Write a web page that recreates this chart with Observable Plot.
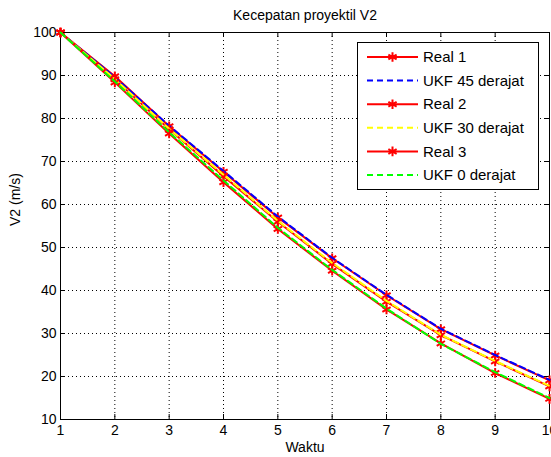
<!DOCTYPE html>
<html>
<head>
<meta charset="utf-8">
<script src="https://cdn.jsdelivr.net/npm/d3@7"></script>
<script src="https://cdn.jsdelivr.net/npm/@observablehq/plot@0.6"></script>
<style>
  html, body { margin: 0; padding: 0; background: #fff; overflow: hidden; }
  #wrap { position: relative; width: 551px; height: 457px; }
  #legend { position: absolute; left: 357px; top: 42px; }
</style>
</head>
<body>
<div id="wrap"></div>
<script>
// ---- data ----
const t = [1, 2, 3, 4, 5, 6, 7, 8, 9, 10];
const real1 = [100, 89.8, 78.2, 67.6, 57.0, 47.5, 38.9, 31.0, 24.9, 19.1];
const ukf45 = [100, 89.6, 78.3, 67.8, 57.2, 47.6, 39.0, 31.1, 25.0, 19.2];
const real2 = [100, 89.1, 77.5, 66.6, 56.0, 46.2, 37.4, 29.6, 23.5, 17.7];
const ukf30 = [100, 89.2, 77.6, 66.9, 56.2, 46.4, 37.6, 29.7, 23.6, 17.8];
const real3 = [100, 88.4, 76.5, 65.2, 54.3, 44.6, 35.6, 27.7, 20.8, 14.8];
const ukf0  = [100, 88.6, 76.8, 65.6, 54.6, 44.8, 35.8, 27.6, 21.0, 15.0];
const xTicks = [1, 2, 3, 4, 5, 6, 7, 8, 9, 10];
const yTicks = [10, 20, 30, 40, 50, 60, 70, 80, 90, 100];
const seriesNames = ["Real 1", "UKF 45 derajat", "Real 2", "UKF 30 derajat", "Real 3", "UKF 0 derajat"];
const seriesColors = ["#ff0000", "#0000ff", "#ff0000", "#ffff00", "#ff0000", "#00ff00"];
const seriesValues = [real1, ukf45, real2, ukf30, real3, ukf0];
const titleText = "Kecepatan proyektil V2";
const xLabel = "Waktu";
const yLabel = "V2 (m/s)";

// ---- layout ----
const W = 551, H = 457, mL = 60, mR = 2, mT = 32, mB = 38;
const plotH = H - mT - mB, plotW = W - mL - mR;
const tickLen = 5;

const series = seriesValues.map((vals, i) => ({
  name: seriesNames[i],
  color: seriesColors[i],
  real: seriesNames[i].startsWith("Real"),
  data: t.map((x, j) => ({x, y: vals[j]}))
}));

const lineMarks = [];
for (const s of series) {
  if (s.real) {
    lineMarks.push(Plot.line(s.data, {x: "x", y: "y", stroke: s.color, strokeWidth: 2}));
    lineMarks.push(Plot.dot(s.data, {x: "x", y: "y", symbol: "asterisk", r: 4.5, stroke: s.color, strokeWidth: 2}));
  } else {
    lineMarks.push(Plot.line(s.data, {x: "x", y: "y", stroke: s.color, strokeWidth: 2, strokeDasharray: "6,4"}));
  }
}

const chart = Plot.plot({
  width: W, height: H,
  marginLeft: mL, marginRight: mR, marginTop: mT, marginBottom: mB,
  x: {domain: [1, 10], label: null},
  y: {domain: [10, 100], label: null},
  style: {fontFamily: "'Liberation Sans', Arial, sans-serif", fontSize: "14px", background: "#fff", color: "#000", overflow: "visible"},
  marks: [
    Plot.gridX(xTicks.slice(1, -1), {stroke: "#000", strokeOpacity: 1, strokeWidth: 1, strokeDasharray: "1,3"}),
    Plot.gridY(yTicks.slice(1, -1), {stroke: "#000", strokeOpacity: 1, strokeWidth: 1, strokeDasharray: "1,3"}),
    Plot.ruleX(xTicks, {stroke: "#000", insetTop: plotH - tickLen}),
    Plot.ruleX(xTicks, {stroke: "#000", insetBottom: plotH - tickLen}),
    Plot.ruleY(yTicks, {stroke: "#000", insetRight: plotW - tickLen}),
    Plot.ruleY(yTicks, {stroke: "#000", insetLeft: plotW - tickLen}),
    Plot.axisX(xTicks, {tickSize: 0, tickPadding: 6, fontSize: 14, label: null}),
    Plot.axisY(yTicks, {tickSize: 0, tickPadding: 4, fontSize: 14, label: null}),
    Plot.frame({stroke: "#000", strokeWidth: 1}),
    ...lineMarks,
    Plot.text([titleText], {frameAnchor: "top", lineAnchor: "middle", dy: -17, fontSize: 14}),
    Plot.text([xLabel], {frameAnchor: "bottom", lineAnchor: "middle", dy: 28, fontSize: 14}),
    Plot.text([yLabel], {frameAnchor: "left", lineAnchor: "middle", dx: -45, rotate: -90, fontSize: 14})
  ]
});
document.getElementById("wrap").appendChild(chart);

// ---- legend ----
const LW = 182, LH = 148, rowStep = 23.6, row0 = 15;
const lg = d3.select("#wrap").append("svg").attr("id", "legend")
  .attr("width", LW).attr("height", LH)
  .style("font-family", "'Liberation Sans', Arial, sans-serif");
lg.append("rect").attr("x", 0.5).attr("y", 0.5).attr("width", LW - 1).attr("height", LH - 1)
  .attr("fill", "#fff").attr("stroke", "#000");
series.forEach((s, i) => {
  const g = lg.append("g").attr("transform", `translate(0,${row0 + i * rowStep})`);
  g.append("line").attr("x1", 10).attr("x2", 61).attr("y1", 0).attr("y2", 0)
    .attr("stroke", s.color).attr("stroke-width", 2)
    .attr("stroke-dasharray", s.real ? null : "6,4");
  if (s.real) {
    const sym = d3.symbol(d3.symbolAsterisk, 64)();
    g.append("path").attr("d", sym).attr("transform", "translate(35.5,0)")
      .attr("stroke", s.color).attr("stroke-width", 2).attr("fill", "none");
  }
  g.append("text").attr("x", 66).attr("y", 0).attr("dy", "0.35em")
    .attr("font-size", 15).text(s.name);
});
</script>
</body>
</html>
